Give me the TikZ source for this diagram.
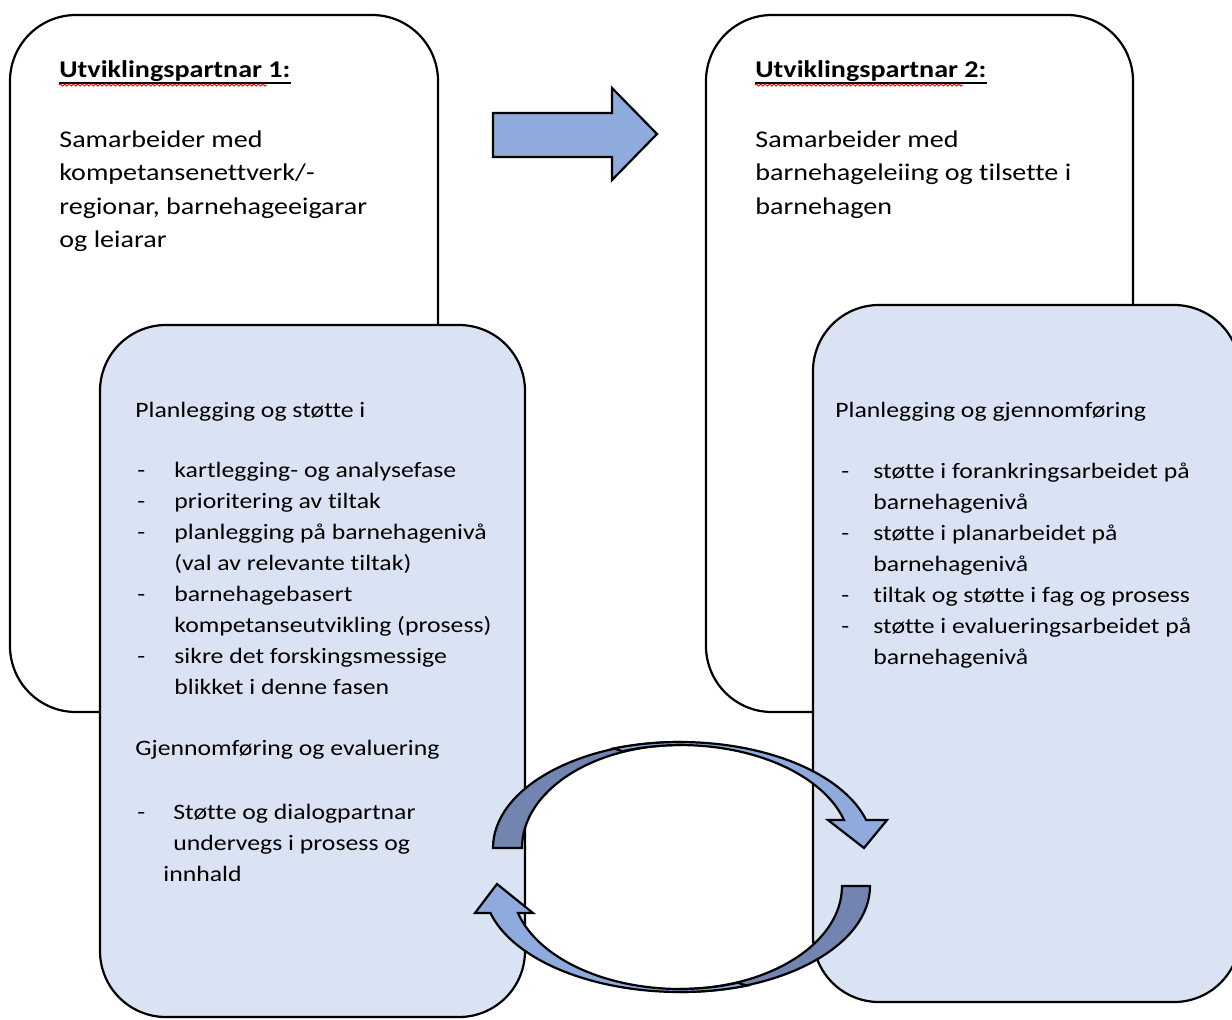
\documentclass[tikz,border=0pt]{standalone}
\usepackage{fontspec}
\setmainfont{Carlito}[FakeStretch=1.17,Ligatures={NoCommon}]
\usetikzlibrary{calc,decorations.pathmorphing}
\definecolor{boxblue}{HTML}{DAE3F3}
\definecolor{arrowlight}{HTML}{8FAADC}
\definecolor{arrowdark}{HTML}{7185B0}
\newcommand{\itmL}{\makebox[19.5pt][l]{\hspace{1pt}-}}
\newcommand{\cntL}{\hspace*{19.5pt}}
\newcommand{\itmR}{\makebox[19pt][l]{\hspace{3pt}-}}
\newcommand{\cntR}{\hspace*{19pt}}
\begin{document}
\begin{tikzpicture}[x=0.5pt,y=-0.5pt,
  panel/.style={draw=black,line width=1.1pt,rounded corners=33pt},
  whitepanel/.style={panel,fill=white},
  bluepanel/.style={panel,fill=boxblue},
  blockarrow/.style={draw=black,line width=1.1pt,line join=miter,fill=arrowlight},
  darkband/.style={draw=black,line width=1.1pt,line join=miter,fill=arrowdark},
  lightband/.style={draw=black,line width=1.1pt,line join=miter,fill=arrowlight},
  titletext/.style={anchor=base west,inner sep=0pt,font=\fontsize{12}{17}\selectfont\bfseries},
  toptext/.style={anchor=base west,inner sep=0pt,font=\fontsize{12}{16.75}\selectfont},
  bluetext/.style={anchor=base west,inner sep=0pt,font=\fontsize{11}{15.5}\selectfont},
  uline/.style={draw=black,line width=0.6pt},
  spell/.style={draw=red,line width=0.45pt,decorate,decoration={snake,amplitude=0.55pt,segment length=2.2pt}}
]
\useasboundingbox (0,0) rectangle (1232,1019);
\fill[white] (0,0) rectangle (1232,1019);

% panels
\draw[whitepanel] (10,15) rectangle (438,712);
\draw[whitepanel] (706,15) rectangle (1133,712);
\draw[bluepanel] (100,325) rectangle (525,1017);
\draw[bluepanel] (813,305) rectangle (1240,1002);

% block arrow
\draw[blockarrow] (493,113) -- (612,113) -- (612,88) -- (657,134) -- (612,180) -- (612,157) -- (493,157) -- cycle;

% curved arrow (top, pointing right)
\filldraw[darkband] (493,848) arc[start angle=180,end angle=270,x radius=187,y radius=106]
  -- ++(0,3) arc[start angle=270,end angle=180,x radius=158,y radius=103] -- cycle;
\filldraw[lightband] (614,748.4) arc[start angle=250,end angle=344.7,x radius=193,y radius=106]
  -- (887,820) -- (864,848) -- (828,820) -- (844,820)
  arc[start angle=344.2,end angle=250,x radius=170,y radius=103] -- cycle;

% curved arrow (bottom, pointing left)
\filldraw[darkband] (870,886) arc[start angle=0,end angle=90,x radius=190,y radius=106]
  -- ++(0,-3) arc[start angle=90,end angle=0,x radius=162,y radius=103] -- cycle;
\filldraw[lightband] (747,985.6) arc[start angle=70,end angle=165.24,x radius=196,y radius=106]
  -- (475,913) -- (497,884) -- (533,913) -- (518,913)
  arc[start angle=164.8,end angle=70,x radius=168,y radius=103] -- cycle;

% titles
\node[titletext] (t1) at (59,77) {Utviklingspartnar 1:};
\draw[uline] ($(t1.base west)+(0,6)$) -- ($(t1.base east)+(0,6)$);
\draw[spell] ($(t1.base west)+(0,8)$) -- ($(t1.base west)+(208,8)$);
\node[titletext] (t2) at (755,77) {Utviklingspartnar 2:};
\draw[uline] ($(t2.base west)+(0,6)$) -- ($(t2.base east)+(0,6)$);
\draw[spell] ($(t2.base west)+(0,8)$) -- ($(t2.base west)+(208,8)$);

% top descriptions
\node[toptext] (d1) at (59,147) {\begin{tabular}[t]{@{}l@{}}Samarbeider med\\kompetansenettverk/-\\regionar, barnehageeigarar\\og leiarar\end{tabular}};
\node[toptext] (d2) at (755,147) {\begin{tabular}[t]{@{}l@{}}Samarbeider med\\barnehageleiing og tilsette i\\barnehagen\end{tabular}};

% left blue panel text
\node[bluetext] (h1) at (135,417) {Planlegging og støtte i};
\node[bluetext] (b1) at (135,477) {\begin{tabular}[t]{@{}l@{}}\itmL kartlegging- og analysefase\\
\itmL prioritering av tiltak\\
\itmL planlegging på barnehagenivå\\
\cntL (val av relevante tiltak)\\
\itmL barnehagebasert\\
\cntL kompetanseutvikling (prosess)\\
\itmL sikre det forskingsmessige\\
\cntL blikket i denne fasen\end{tabular}};
\node[bluetext] (h2) at (135,755) {Gjennomføring og evaluering};
\node[bluetext] (b2) at (135,819) {\begin{tabular}[t]{@{}l@{}}\makebox[19pt][l]{\hspace{1pt}-}Støtte og dialogpartnar\\
\hspace*{19pt}undervegs i prosess og\\
\hspace*{14pt}innhald\end{tabular}};

% right blue panel text
\node[bluetext] (h3) at (835,417) {Planlegging og gjennomføring};
\node[bluetext] (b3) at (835,478) {\begin{tabular}[t]{@{}l@{}}\itmR støtte i forankringsarbeidet på\\
\cntR barnehagenivå\\
\itmR støtte i planarbeidet på\\
\cntR barnehagenivå\\
\itmR tiltak og støtte i fag og prosess\\
\itmR støtte i evalueringsarbeidet på\\
\cntR barnehagenivå\end{tabular}};
\end{tikzpicture}
\end{document}
